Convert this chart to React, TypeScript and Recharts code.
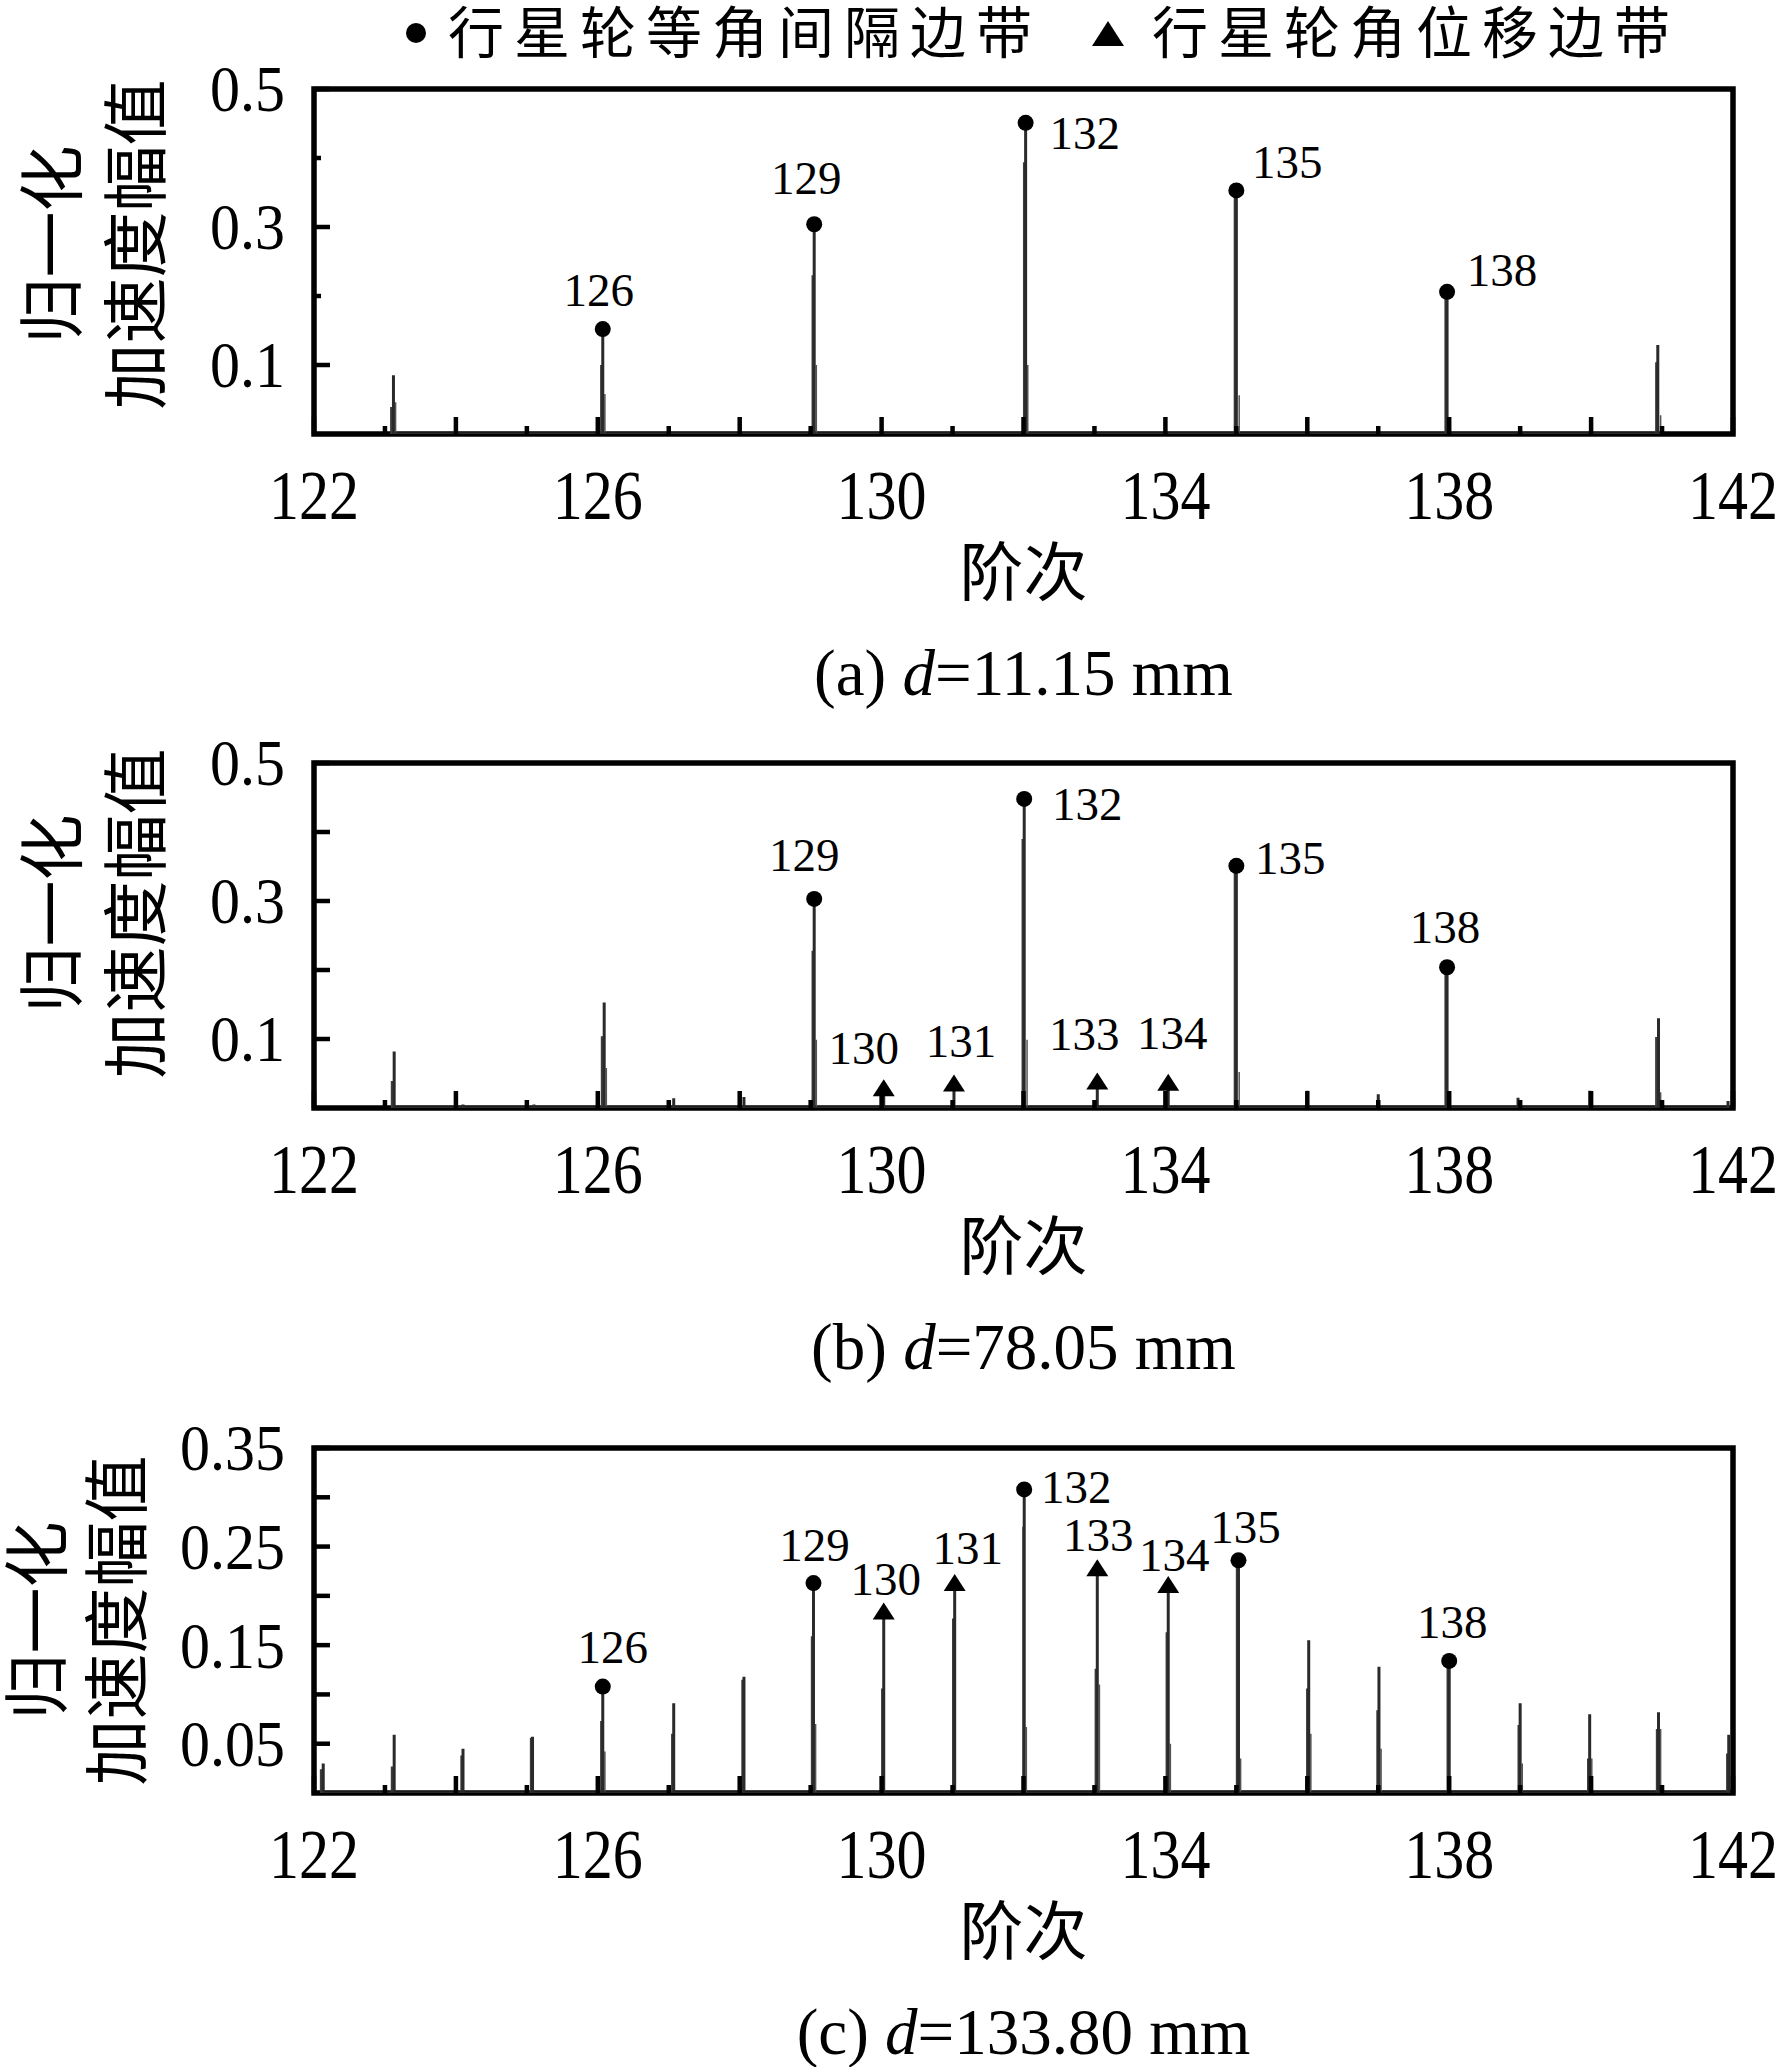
import React from 'react';
import { ComposedChart, Line, Scatter, XAxis, YAxis, ReferenceArea } from 'recharts';

const SERIF = '"Liberation Serif", "Times New Roman", serif';
const CJK = '"Noto Sans CJK SC", "Noto Sans CJK JP", sans-serif';

// x axis: orders 122..142, a tick on every order, labels every 4
const xTicks = [122, 123, 124, 125, 126, 127, 128, 129, 130, 131, 132, 133, 134, 135, 136, 137, 138, 139, 140, 141, 142];
const xTickLabels = ['122', '126', '130', '134', '138', '142'];

// ---------- (a) d=11.15 mm ----------
const aMainX = [123.12, 126.07, 129.05, 132.03, 135.0, 137.97, 140.94];
const aMainY = [0.085, 0.152, 0.304, 0.451, 0.353, 0.206, 0.129];
const aSideX = [123.09, 126.05, 129.03, 132.01, 134.98, 137.95, 140.92];
const aSideY = [0.039, 0.1, 0.23, 0.394, 0.345, 0.2, 0.104];
const aTailX = [123.15, 126.1, 129.08, 132.06, 135.04, 140.98];
const aTailY = [0.046, 0.058, 0.1, 0.1, 0.056, 0.027];
const aDotX = [126.07, 129.05, 132.03, 135.0, 137.97];
const aDotY = [0.152, 0.304, 0.451, 0.353, 0.206];
const aDotLabel = ['126', '129', '132', '135', '138'];
const aTriX: number[] = [];
const aTriY: number[] = [];
const aTriLabel: string[] = [];
const aYTicks = [0.1, 0.2, 0.3, 0.4, 0.5];
const aYLabels = ['0.1', '', '0.3', '', '0.5'];

// ---------- (b) d=78.05 mm ----------
const bMainX = [123.13, 124.1, 125.1, 126.09, 127.07, 128.06, 129.05, 130.03, 131.02, 132.01, 133.04, 134.04, 135.0, 136.0, 137.0, 137.97, 138.97, 139.98, 140.95, 141.93];
const bMainY = [0.082, 0.005, 0.005, 0.153, 0.014, 0.016, 0.303, 0.027, 0.034, 0.448, 0.037, 0.035, 0.351, 0.025, 0.02, 0.204, 0.015, 0.025, 0.13, 0.01];
const bSideX = [123.1, 126.06, 129.03, 131.99, 134.98, 137.95, 140.92];
const bSideY = [0.039, 0.104, 0.228, 0.39, 0.345, 0.2, 0.103];
const bTailX = [126.12, 129.08, 132.05, 135.04, 140.98];
const bTailY = [0.058, 0.099, 0.099, 0.052, 0.023];
const bDotX = [129.05, 132.01, 135.0, 137.97];
const bDotY = [0.303, 0.448, 0.351, 0.204];
const bDotLabel = ['129', '132', '135', '138'];
const bTriX = [130.03, 131.02, 133.04, 134.04];
const bTriY = [0.027, 0.034, 0.037, 0.035];
const bTriLabel = ['130', '131', '133', '134'];
const bYTicks = [0.1, 0.2, 0.3, 0.4, 0.5];
const bYLabels = ['0.1', '', '0.3', '', '0.5'];

// ---------- (c) d=133.80 mm ----------
const cMainX = [122.13, 123.13, 124.1, 125.08, 126.07, 127.07, 128.06, 129.04, 130.03, 131.03, 132.01, 133.04, 134.04, 135.03, 136.02, 137.01, 138.0, 139.0, 139.98, 140.95, 141.94];
const cMainY = [0.03, 0.059, 0.045, 0.057, 0.108, 0.091, 0.118, 0.213, 0.183, 0.212, 0.308, 0.227, 0.21, 0.236, 0.155, 0.128, 0.134, 0.091, 0.08, 0.082, 0.059];
const cSideX = [122.1, 123.1, 124.08, 125.06, 126.05, 127.05, 128.04, 129.02, 130.01, 131.01, 132.0, 133.02, 134.02, 135.01, 136.0, 136.99, 137.98, 138.98, 139.96, 140.93, 141.92];
const cSideY = [0.024, 0.027, 0.038, 0.056, 0.073, 0.06, 0.115, 0.159, 0.106, 0.177, 0.27, 0.126, 0.163, 0.232, 0.106, 0.084, 0.13, 0.069, 0.035, 0.065, 0.04];
const cTailX = [126.1, 129.07, 132.04, 133.07, 134.07, 135.06, 136.05, 137.04, 139.03, 140.01, 140.98];
const cTailY = [0.042, 0.07, 0.067, 0.11, 0.05, 0.035, 0.06, 0.045, 0.03, 0.035, 0.065];
const cDotX = [126.07, 129.04, 132.01, 135.03, 138.0];
const cDotY = [0.108, 0.213, 0.308, 0.236, 0.134];
const cDotLabel = ['126', '129', '132', '135', '138'];
const cTriX = [130.03, 131.03, 133.04, 134.04];
const cTriY = [0.183, 0.212, 0.227, 0.21];
const cTriLabel = ['130', '131', '133', '134'];
const cYTicks = [0.05, 0.1, 0.15, 0.2, 0.25, 0.3, 0.35];
const cYLabels = ['0.05', '', '0.15', '', '0.25', '', '0.35'];

// label placement relative to the marker centre, in px
const aLabelPos: Record<string, [number, number]> = {
  '126': [-4, -23], '129': [-8, -30], '132': [59, 26], '135': [51, -12], '138': [55, -6],
};
const bLabelPos: Record<string, [number, number]> = {
  '129': [-10, -28], '130': [-20, -25], '131': [7, -28], '132': [63, 21],
  '133': [-13, -32], '134': [4, -35], '135': [54, 8], '138': [-2, -24],
};
const cLabelPos: Record<string, [number, number]> = {
  '126': [10, -24], '129': [1, -22], '130': [2, -18], '131': [13, -20], '132': [52, 14],
  '133': [1, -18], '134': [6, -15], '135': [7, -17], '138': [3, -23],
};

const stems = (xs: number[], ys: number[]) =>
  xs.flatMap((x, i) => [{ x, y: 0 }, { x, y: ys[i] }, { x, y: 0 }]);

const points = (xs: number[], ys: number[], labels: string[]) =>
  xs.map((x, i) => ({ x, y: ys[i], label: labels[i] }));

const panels = [
  {
    top: 0, yMax: 0.5, yTicks: aYTicks, yLabels: aYLabels, yMinorLen: 7,
    main: stems(aMainX, aMainY), side: stems(aSideX, aSideY), tail: stems(aTailX, aTailY),
    dots: points(aDotX, aDotY, aDotLabel), tris: points(aTriX, aTriY, aTriLabel),
    labelPos: aLabelPos, caption: ['(a) ', '=11.15 mm'], titleShift: -17, col1: 262, col2: 178,
  },
  {
    top: 674, yMax: 0.5, yTicks: bYTicks, yLabels: bYLabels, yMinorLen: 16,
    main: stems(bMainX, bMainY), side: stems(bSideX, bSideY), tail: stems(bTailX, bTailY),
    dots: points(bDotX, bDotY, bDotLabel), tris: points(bTriX, bTriY, bTriLabel),
    labelPos: bLabelPos, caption: ['(b) ', '=78.05 mm'], titleShift: -22, col1: 262, col2: 178,
  },
  {
    top: 1359, yMax: 0.35, yTicks: cYTicks, yLabels: cYLabels, yMinorLen: 16,
    main: stems(cMainX, cMainY), side: stems(cSideX, cSideY), tail: stems(cTailX, cTailY),
    dots: points(cDotX, cDotY, cDotLabel), tris: points(cTriX, cTriY, cTriLabel),
    labelPos: cLabelPos, caption: ['(c) ', '=133.80 mm'], titleShift: 0, col1: 277, col2: 197,
  },
];

function XTick(props: any) {
  const { x, y, payload } = props;
  const v = payload.value;
  const len = v % 2 === 0 ? 17 : 8;
  const text = xTickLabels.includes(String(v)) ? String(v) : '';
  return (
    <g>
      <line x1={x} x2={x} y1={y} y2={y - len} stroke="#000" strokeWidth={4.5} />
      {text && (
        <g transform={`translate(${x},${y + 85}) scale(1,1.16)`}>
          <text x={0} y={0} textAnchor="middle" fontSize={60} fontFamily={SERIF} fill="#000">
            {text}
          </text>
        </g>
      )}
    </g>
  );
}

function makeYTick(ticks: number[], labels: string[], minorLen: number) {
  return (props: any) => {
    const { x, y, payload } = props;
    const i = ticks.indexOf(payload.value);
    const text = labels[i] ?? '';
    const len = text ? 16 : minorLen;
    return (
      <g>
        <line x1={x} x2={x + len} y1={y} y2={y} stroke="#000" strokeWidth={4.5} />
        {text && (
          <g transform={`translate(${x - 29},${y}) scale(1,1.1)`}>
            <text x={0} y={0} dy="0.34em" textAnchor="end" fontSize={60} fontFamily={SERIF} fill="#000">
              {text}
            </text>
          </g>
        )}
      </g>
    );
  };
}

function makeMarker(kind: 'circle' | 'triangle', labelPos: Record<string, [number, number]>) {
  return (props: any) => {
    const { cx, cy, payload } = props;
    const [dx, dy] = labelPos[payload.label] ?? [0, -22];
    return (
      <g>
        {kind === 'circle' ? (
          <circle cx={cx} cy={cy} r={8} fill="#000" />
        ) : (
          <polygon points={`${cx},${cy - 10} ${cx - 11},${cy + 7} ${cx + 11},${cy + 7}`} fill="#000" />
        )}
        <text x={cx + dx} y={cy + dy} textAnchor="middle" fontSize={47} fontFamily={SERIF} fill="#000">
          {payload.label}
        </text>
      </g>
    );
  };
}

function Panel({ p }: { p: (typeof panels)[number] }) {
  const xTitle = (lp: any) => {
    const vb = lp.viewBox;
    const cx = vb.x + vb.width / 2;
    return (
      <g>
        <text x={cx} y={vb.y + 161} textAnchor="middle" fontSize={64} fontFamily={CJK} fill="#000">
          阶次
        </text>
        <text x={cx} y={vb.y + 261} textAnchor="middle" fontSize={65} fontFamily={SERIF} fill="#000">
          <tspan>{p.caption[0]}</tspan>
          <tspan fontStyle="italic">d</tspan>
          <tspan>{p.caption[1]}</tspan>
        </text>
      </g>
    );
  };
  const yTitle = (lp: any) => {
    const vb = lp.viewBox;
    const right = vb.x + vb.width;
    const cy = vb.y + vb.height / 2 + p.titleShift;
    return (
      <g>
        <text transform={`translate(${right - p.col1},${cy}) rotate(-90)`} dy="0.36em" textAnchor="middle" fontSize={66} fontFamily={CJK} fill="#000">
          归一化
        </text>
        <text transform={`translate(${right - p.col2},${cy}) rotate(-90)`} dy="0.36em" textAnchor="middle" fontSize={66} fontFamily={CJK} fill="#000">
          加速度幅值
        </text>
      </g>
    );
  };
  return (
    <div style={{ position: 'absolute', left: 0, top: p.top }}>
      <ComposedChart width={1779} height={720} margin={{ top: 89, right: 46, bottom: 226, left: 214 }}>
        <XAxis
          dataKey="x"
          type="number"
          domain={[122, 142]}
          ticks={xTicks}
          interval={0}
          allowDataOverflow
          axisLine={false}
          tickLine={false}
          tickSize={0}
          tickMargin={0}
          height={60}
          tick={(tp: any) => <XTick {...tp} />}
          label={xTitle}
        />
        <YAxis
          dataKey="y"
          type="number"
          domain={[0, p.yMax]}
          ticks={p.yTicks}
          interval={0}
          allowDataOverflow
          axisLine={false}
          tickLine={false}
          tickSize={0}
          tickMargin={0}
          width={100}
          tick={makeYTick(p.yTicks, p.yLabels, p.yMinorLen)}
          label={yTitle}
        />
        <Line data={p.tail} dataKey="y" type="linear" stroke="#555" strokeWidth={1.5} dot={false} activeDot={false} strokeLinejoin="bevel" isAnimationActive={false} />
        <Line data={p.side} dataKey="y" type="linear" stroke="#3c3c3c" strokeWidth={2.5} dot={false} activeDot={false} strokeLinejoin="bevel" isAnimationActive={false} />
        <Line data={p.main} dataKey="y" type="linear" stroke="#2a2a2a" strokeWidth={3} dot={false} activeDot={false} strokeLinejoin="bevel" isAnimationActive={false} />
        <Scatter data={p.dots} dataKey="y" shape={makeMarker('circle', p.labelPos)} isAnimationActive={false} />
        {p.tris.length > 0 && (
          <Scatter data={p.tris} dataKey="y" shape={makeMarker('triangle', p.labelPos)} isAnimationActive={false} />
        )}
        <ReferenceArea x1={122} x2={142} y1={0} y2={p.yMax} ifOverflow="visible" fill="none" fillOpacity={0} stroke="#000" strokeWidth={5.5} />
      </ComposedChart>
    </div>
  );
}

function LegendBar() {
  return (
    <svg width={1779} height={80} style={{ position: 'absolute', left: 0, top: 0 }}>
      <circle cx={416} cy={33} r={10} fill="#000" />
      <text x={448} y={53} fontSize={56} letterSpacing={10} fontFamily={CJK} fill="#000">
        行星轮等角间隔边带
      </text>
      <polygon points="1108,21 1092,46 1124,46" fill="#000" />
      <text x={1152} y={53} fontSize={56} letterSpacing={10} fontFamily={CJK} fill="#000">
        行星轮角位移边带
      </text>
    </svg>
  );
}

export default function App() {
  return (
    <div style={{ position: 'absolute', left: 0, top: 0, width: 1779, height: 2067, overflow: 'hidden', background: '#fff' }}>
      {panels.map((p, i) => (
        <Panel key={i} p={p} />
      ))}
      <LegendBar />
    </div>
  );
}
